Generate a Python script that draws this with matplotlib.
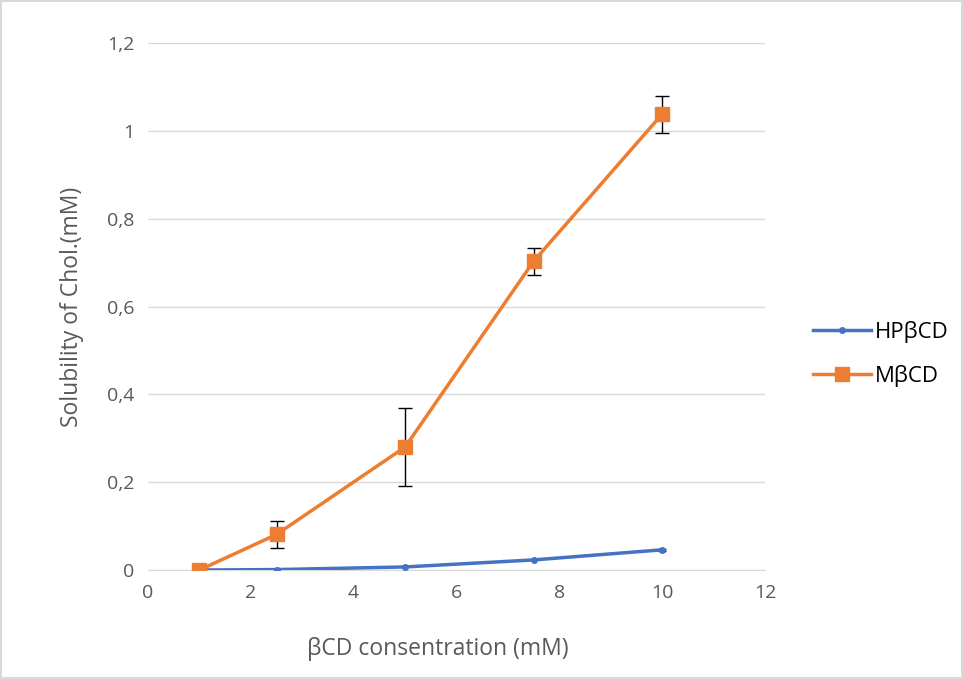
import matplotlib.pyplot as plt
from matplotlib.ticker import FuncFormatter

conc = [1, 2.5, 5, 7.5, 10]
hp_sol = [0.0, 0.001, 0.007, 0.023, 0.046]
hp_err = [0, 0, 0, 0, 0.002]
m_sol = [0.0, 0.081, 0.280, 0.703, 1.038]
m_err = [0, 0.031, 0.088, 0.031, 0.042]

plt.rcParams['font.family'] = ['Open Sans', 'DejaVu Sans']

fig = plt.figure(figsize=(9.63, 6.79), dpi=100)
fig.patch.set_edgecolor('#d9d9d9')
fig.patch.set_linewidth(1.5)
ax = fig.add_axes([0.1537, 0.1605, 0.6407, 0.7762])

ax.plot(conc, hp_sol, color='#4472c4', lw=2.5, marker='o', ms=4, label='HPβCD', zorder=4)
ax.plot(conc, m_sol, color='#ed7d31', lw=2.5, marker='s', ms=10, label='MβCD', zorder=5)

# error bars only where there is an error, behind the markers
for y, e, cap in [(hp_sol, hp_err, 3), (m_sol, m_err, 5)]:
    xs = [c for c, ee in zip(conc, e) if ee > 0]
    ys = [v for v, ee in zip(y, e) if ee > 0]
    es = [ee for ee in e if ee > 0]
    ax.errorbar(xs, ys, yerr=es, fmt='none', ecolor='black', elinewidth=1,
                capsize=cap, zorder=3)

ax.set_xlim(0, 12)
ax.set_ylim(0, 1.2)
ax.set_xticks(range(0, 13, 2))
ax.set_yticks([0, 0.2, 0.4, 0.6, 0.8, 1.0, 1.2])
ax.yaxis.set_major_formatter(FuncFormatter(lambda v, p: ('%g' % round(v, 1)).replace('.', ',')))
ax.grid(axis='y', color='#d9d9d9', lw=1)
ax.set_axisbelow(True)
for s in ['top', 'right', 'left']:
    ax.spines[s].set_visible(False)
ax.spines['bottom'].set_color('#d9d9d9')
ax.tick_params(length=0, labelsize=14, labelcolor='#595959', pad=10)

ax.set_xlabel('βCD consentration (mM)', fontsize=16.5, color='#595959')
ax.xaxis.set_label_coords(0.47, -0.128)
ax.set_ylabel('Solubility of Chol.(mM)', fontsize=16.5, color='#595959', labelpad=16)

ax.legend(loc='center left', bbox_to_anchor=(1.045, 0.41), frameon=False, fontsize=16,
          handlelength=2.6, handletextpad=0.2, labelspacing=1.0)

plt.savefig('out.png')
